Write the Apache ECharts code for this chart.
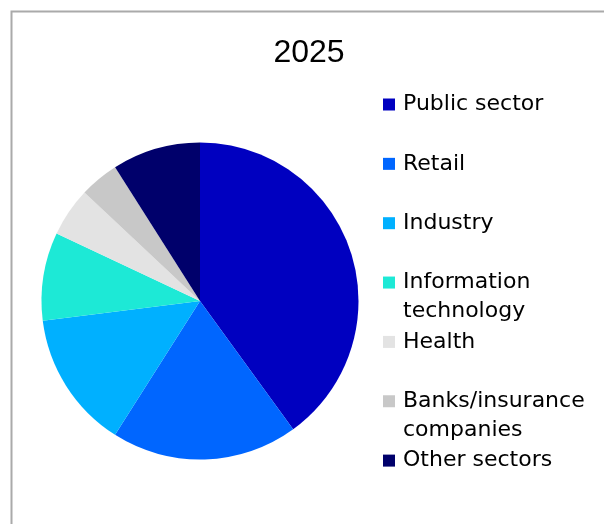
<!DOCTYPE html>
<html>
<head>
<meta charset="utf-8">
<style>
  html, body { margin: 0; padding: 0; background: #fff; }
  #chart { width: 604px; height: 524px; }
</style>
<script src="https://cdn.jsdelivr.net/npm/echarts@6/dist/echarts.min.js"></script>
</head>
<body>
<div id="chart"></div>
<script>
// Share of clients by sector, 2025 (percent)
const chartTitle = '2025';
const sectors = [
  'Public sector',
  'Retail',
  'Industry',
  'Information technology',
  'Health',
  'Banks/insurance companies',
  'Other sectors'
];
const shares = [40, 19, 14, 9, 5, 4, 9];
// Legend text, wrapped the way it is printed
const legendLabels = [
  'Public sector',
  'Retail',
  'Industry',
  'Information\ntechnology',
  'Health',
  'Banks/insurance\ncompanies',
  'Other sectors'
];

const palette = ['#0000c0', '#0066ff', '#00b0ff', '#1de9d6', '#e3e3e3', '#c8c8c8', '#00006b'];
const TITLE_FONT = '"Liberation Sans", Arial, sans-serif';
const LEGEND_FONT = '"DejaVu Sans", sans-serif';
const LINE = 29;          // legend line height
const ROW = 59.35;        // distance between legend rows
const FIRST_ROW = 104.5;  // centre of the first legend marker

const chart = echarts.init(document.getElementById('chart'), null, { renderer: 'canvas' });

// One legend block per sector. Wrapped names get an empty leading line so the
// marker (centred on the text block) lines up with the first printed line.
const legends = sectors.map((name, i) => {
  const wrapped = legendLabels[i].split('\n');
  const lines = wrapped.length === 1 ? wrapped : [''].concat(wrapped);
  const text = lines.join('\n');
  const yc = FIRST_ROW + ROW * i;
  return {
    data: [name],
    orient: 'vertical',
    left: 383,
    top: yc - (LINE * lines.length) / 2,
    padding: 0,
    itemWidth: 12,
    itemHeight: 12,
    icon: 'rect',
    selectedMode: false,
    formatter: () => text,
    textStyle: {
      fontFamily: LEGEND_FONT,
      fontSize: 22,
      color: '#000',
      lineHeight: LINE,
      padding: [0, 0, 0, 3]
    }
  };
});

chart.setOption({
  animation: false,
  backgroundColor: '#ffffff',
  title: {
    text: chartTitle,
    left: 309,
    top: 37,
    padding: 0,
    textAlign: 'center',
    textStyle: { fontFamily: TITLE_FONT, fontSize: 32, fontWeight: 'normal', color: '#000' }
  },
  graphic: [{
    type: 'rect',
    silent: true,
    shape: { x: 11.5, y: 11.5, width: 1000, height: 1000 },
    style: { fill: 'none', stroke: '#aaaaaa', lineWidth: 2 }
  }],
  legend: legends,
  series: [{
    type: 'pie',
    center: [200, 301],
    radius: 158.5,
    startAngle: 90,
    clockwise: true,
    label: { show: false },
    labelLine: { show: false },
    emphasis: { disabled: true },
    itemStyle: { borderWidth: 0 },
    data: sectors.map((name, i) => ({
      name,
      value: shares[i],
      itemStyle: { color: palette[i] }
    }))
  }]
});
</script>
</body>
</html>
